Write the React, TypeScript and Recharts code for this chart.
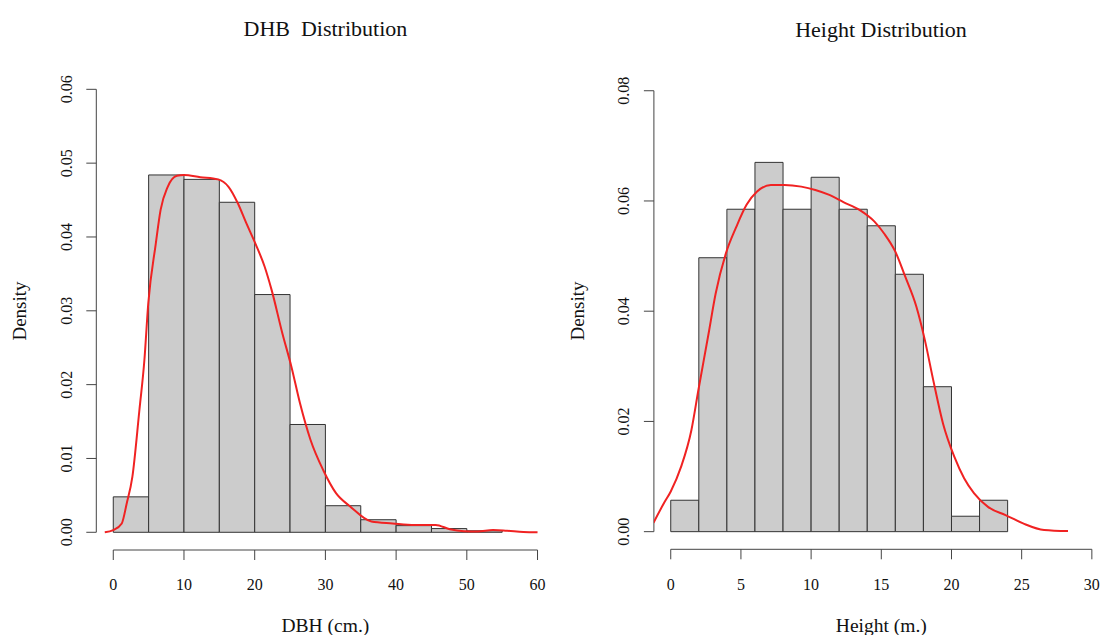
import React from 'react';
import { ComposedChart, XAxis, YAxis, Line, ReferenceArea, ReferenceLine } from 'recharts';

// ---------- DBH histogram (bins of 5 cm) ----------
const DBH_BREAKS = [0, 5, 10, 15, 20, 25, 30, 35, 40, 45, 50, 55];
const DBH_DENSITY = [0.0048, 0.0484, 0.0478, 0.0447, 0.0322, 0.0146, 0.0036, 0.0017, 0.0009, 0.0005, 0.0002];
const DBH_CURVE_X = [-1.2, 0, 1.2, 1.9, 2.7, 3.7, 4.4, 4.95, 6.0, 6.7, 7.7, 9.0, 10.0, 12.3, 14.8, 16.3, 17.6, 18.8, 20.1, 21.4, 22.4, 23.9, 25.2, 26.4, 27.9, 29.7, 31.5, 33.5, 36.5, 39.5, 42.6, 45.6, 47.6, 49.6, 51.5, 53.7, 55.7, 58, 60];
const DBH_CURVE_Y = [0, 0.0003, 0.0012, 0.0039, 0.0075, 0.0166, 0.0233, 0.031, 0.039, 0.0437, 0.0468, 0.0483, 0.0484, 0.0481, 0.0478, 0.0468, 0.0446, 0.0419, 0.0391, 0.036, 0.0328, 0.027, 0.0224, 0.0175, 0.0125, 0.0084, 0.0053, 0.0035, 0.00145, 0.0012, 0.001, 0.001, 0.0004, 0.00014, 0.0001, 0.0003, 0.0002, 0.00005, 0];
const DBH_X_TICKS = [0, 10, 20, 30, 40, 50, 60];
const DBH_Y_TICKS = [0, 0.01, 0.02, 0.03, 0.04, 0.05, 0.06];

// ---------- Height histogram (bins of 2 m) ----------
const HT_BREAKS = [0, 2, 4, 6, 8, 10, 12, 14, 16, 18, 20, 22, 24];
const HT_DENSITY = [0.0057, 0.0497, 0.0585, 0.067, 0.0585, 0.0643, 0.0585, 0.0555, 0.0467, 0.0263, 0.0028, 0.0057];
const HT_CURVE_X = [-1.23, -0.5, 0, 0.74, 1.47, 1.97, 2.7, 3.2, 3.93, 4.67, 5.4, 6.15, 7.13, 8.1, 9.3, 10.3, 11.3, 12.3, 13.5, 14.5, 15.2, 16.0, 16.7, 17.5, 18.1, 18.7, 19.4, 20.2, 20.9, 21.6, 22.6, 23.85, 25.1, 26.6, 28.3];
const HT_CURVE_Y = [0.0016, 0.0051, 0.0073, 0.0118, 0.0184, 0.0257, 0.036, 0.0432, 0.0505, 0.0553, 0.0593, 0.0617, 0.0629, 0.0629, 0.0626, 0.062, 0.0611, 0.0598, 0.0583, 0.0563, 0.0541, 0.0508, 0.0463, 0.0408, 0.0348, 0.0275, 0.0196, 0.0136, 0.0097, 0.007, 0.0045, 0.003, 0.0015, 0.0003, 0.0001];
const HT_X_TICKS = [0, 5, 10, 15, 20, 25, 30];
const HT_Y_TICKS = [0, 0.02, 0.04, 0.06, 0.08];

const FONT = '"Liberation Serif", "Times New Roman", serif';
const TEXT = '#111';
const AXIS = '#444';

type HistProps = {
  breaks: number[];
  density: number[];
  curveX: number[];
  curveY: number[];
  xTicks: number[];
  yTicks: number[];
  xDomain: [number, number];
  yDomain: [number, number];
  xLabel: string;
  width: number;
  margin: { top: number; right: number; bottom: number; left: number };
  xAxisHeight: number;
};

const YTick = (props: any) => {
  const { x, y, payload } = props;
  return (
    <text
      x={x}
      y={y}
      dy="0.35em"
      textAnchor="middle"
      transform={`rotate(-90, ${x}, ${y})`}
      fontSize={16}
      fontFamily={FONT}
      fill={TEXT}
    >
      {Number(payload.value).toFixed(2)}
    </text>
  );
};

function Hist(p: HistProps) {
  const bins = p.density.map((d, i) => ({ x0: p.breaks[i], x1: p.breaks[i + 1], d }));
  const curve = p.curveX.map((x, i) => ({ x, y: p.curveY[i] }));
  return (
    <ComposedChart width={p.width} height={635} margin={p.margin} data={curve}>
      <XAxis
        type="number"
        dataKey="x"
        domain={p.xDomain}
        allowDataOverflow
        ticks={p.xTicks}
        interval={0}
        axisLine={false}
        tickLine={{ stroke: AXIS, strokeWidth: 1 }}
        tickSize={10}
        tickMargin={19}
        height={p.xAxisHeight}
        tick={{ fontSize: 16, fontFamily: FONT, fill: TEXT }}
        label={{ value: p.xLabel, position: 'insideBottom', offset: 3, fontSize: 19.5, fontFamily: FONT, fill: TEXT }}
      />
      <YAxis
        type="number"
        domain={p.yDomain}
        allowDataOverflow
        ticks={p.yTicks}
        interval={0}
        axisLine={false}
        tickLine={{ stroke: AXIS, strokeWidth: 1 }}
        tickSize={10}
        tickMargin={20}
        width={60}
        tick={<YTick />}
      />
      {bins.map((b, i) => (
        <ReferenceArea
          key={i}
          x1={b.x0}
          x2={b.x1}
          y1={0}
          y2={b.d}
          fill="#cccccc"
          fillOpacity={1}
          stroke="#333333"
          strokeWidth={1}
          ifOverflow="visible"
        />
      ))}
      <ReferenceLine
        segment={[{ x: p.xTicks[0], y: p.yDomain[0] }, { x: p.xTicks[p.xTicks.length - 1], y: p.yDomain[0] }]}
        stroke={AXIS}
        strokeWidth={1}
        ifOverflow="visible"
      />
      <ReferenceLine
        segment={[{ x: p.xDomain[0], y: p.yTicks[0] }, { x: p.xDomain[0], y: p.yTicks[p.yTicks.length - 1] }]}
        stroke={AXIS}
        strokeWidth={1}
        ifOverflow="visible"
      />
      <Line
        type="monotone"
        dataKey="y"
        stroke="#f02222"
        strokeWidth={2}
        dot={false}
        activeDot={false}
        isAnimationActive={false}
      />
    </ComposedChart>
  );
}

export default function App() {
  return (
    <div style={{ position: 'absolute', left: 0, top: 0, width: 1101, height: 635, overflow: 'hidden', background: '#fff' }}>
      <div style={{ position: 'absolute', left: 0, top: 0 }}>
        <Hist
          breaks={DBH_BREAKS}
          density={DBH_DENSITY}
          curveX={DBH_CURVE_X}
          curveY={DBH_CURVE_Y}
          xTicks={DBH_X_TICKS}
          yTicks={DBH_Y_TICKS}
          xDomain={[-2.4, 62.4]}
          yDomain={[-0.0024, 0.0624]}
          xLabel="DBH (cm.)"
          width={580}
          margin={{ top: 71.6, right: 25.5, bottom: 0, left: 36.3 }}
          xAxisHeight={85}
        />
      </div>
      <div style={{ position: 'absolute', left: 560, top: 0 }}>
        <Hist
          breaks={HT_BREAKS}
          density={HT_DENSITY}
          curveX={HT_CURVE_X}
          curveY={HT_CURVE_Y}
          xTicks={HT_X_TICKS}
          yTicks={HT_Y_TICKS}
          xDomain={[-1.2, 31.2]}
          yDomain={[-0.0032, 0.0832]}
          xLabel="Height (m.)"
          width={560}
          margin={{ top: 73.1, right: 11.3, bottom: 0, left: 33.9 }}
          xAxisHeight={85.7}
        />
      </div>
      <svg width={1101} height={635} style={{ position: 'absolute', left: 0, top: 0, pointerEvents: 'none' }}>
        <text x={325.4} y={35.7} textAnchor="middle" fontSize={22} fontFamily={FONT} fill={TEXT} style={{ whiteSpace: 'pre' }}>
          {'DHB  Distribution'}
        </text>
        <text x={881} y={36.7} textAnchor="middle" fontSize={22} fontFamily={FONT} fill={TEXT}>
          Height Distribution
        </text>
        <text x={26} y={311} textAnchor="middle" transform="rotate(-90, 26, 311)" fontSize={19} fontFamily={FONT} fill={TEXT}>
          Density
        </text>
        <text x={584.3} y={311} textAnchor="middle" transform="rotate(-90, 584.3, 311)" fontSize={19} fontFamily={FONT} fill={TEXT}>
          Density
        </text>
      </svg>
    </div>
  );
}
